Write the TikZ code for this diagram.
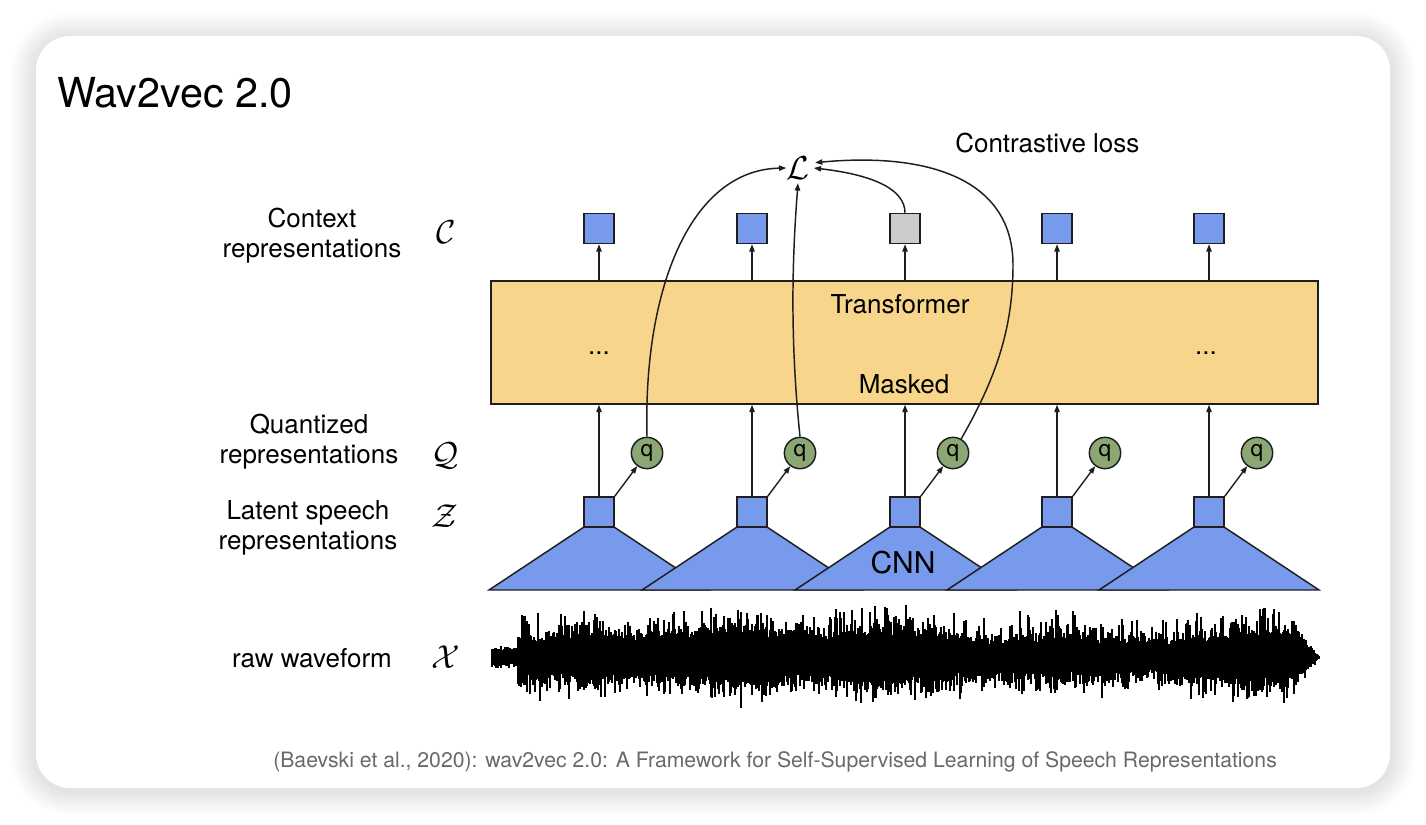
\documentclass[tikz,border=0pt]{standalone}
\usepackage{fontspec}
\setmainfont{TeX Gyre Heros}
\usetikzlibrary{arrows.meta}
\definecolor{blu}{RGB}{120,154,236}
\definecolor{grn}{RGB}{139,168,116}
\definecolor{tfc}{RGB}{247,213,138}
\definecolor{gry}{RGB}{204,204,204}
\definecolor{lineC}{RGB}{30,30,30}
\definecolor{citeC}{RGB}{105,105,105}
\begin{document}
\begin{tikzpicture}[x=0.75pt,y=-0.75pt,
  sqbox/.style={draw=lineC, line width=1.1pt, fill=blu, minimum size=22.5pt, inner sep=0pt},
  qcirc/.style={circle, draw=lineC, line width=1.1pt, fill=grn, minimum size=23.5pt, inner sep=0pt, font=\fontsize{17}{17}\selectfont},
  arr/.style={-{Triangle[length=5.5pt,width=4pt]}, line width=1.05pt, draw=lineC},
  curv/.style={-{Triangle[length=5.5pt,width=4pt]}, line width=1.1pt, draw=lineC},
  lbl/.style={font=\fontsize{19.5}{22.5}\selectfont, align=center, inner sep=0pt},
  mth/.style={font=\fontsize{24}{24}\selectfont, inner sep=0pt},
  inbox/.style={font=\fontsize{19.5}{22.5}\selectfont, inner sep=0pt, anchor=base}
]
\fill[white] (0,0) rectangle (1426,824);
\useasboundingbox (0,0) rectangle (1426,824);
% shadow
\foreach \k in {1,...,14}{
  \pgfmathsetmacro\myrad{(34+1.8*\k)*0.75}
  \fill[black,opacity=0.0075,rounded corners=\myrad pt] ({36-1.8*\k},{36-1.8*\k+2}) rectangle ({1390+1.8*\k},{788+1.8*\k+2});
}
\fill[white, rounded corners=25.5pt] (36,36) rectangle (1390,788);

% title
\node[font=\fontsize{31}{31}\selectfont, anchor=base west, inner sep=0pt] (title) at (57,107) {Wav2vec 2.0};

% transformer
\node[draw=lineC, line width=1.1pt, fill=tfc, minimum width=620.25pt, minimum height=92.25pt, inner sep=0pt] (tf) at (904.5,342.5) {};
\node[inbox] (tft) at (900,313) {Transformer};
\node[inbox] (tfm) at (904,393) {Masked};
\node[inbox] (dl) at (599,354) {...};
\node[inbox] (dr) at (1206,354) {...};

% CNN trapezoids
\foreach \c in {599,752,905,1057,1209}{
  \filldraw[fill=blu, draw=lineC, line width=1.1pt, line join=miter] ({\c-15},527) -- ({\c+15},527) -- ({\c+110},590) -- ({\c-110},590) -- cycle;
}
\node[font=\fontsize{22.5}{22.5}\selectfont, inner sep=0pt, anchor=base] (cnn) at (903,573) {CNN};

% columns
\foreach \c [count=\k] in {599,752,905,1057,1209}{
  \node[sqbox] (z\k) at (\c,512) {};
  \node[qcirc] (q\k) at ({\c+48},453) {q};
  \ifnum\k=3
    \node[sqbox, fill=gry] (c\k) at (\c,228.5) {};
  \else
    \node[sqbox] (c\k) at (\c,228.5) {};
  \fi
  \draw[arr] (z\k.north) -- (z\k.north |- tf.south);
  \draw[arr] (z\k.north east) -- (q\k);
  \draw[arr] (c\k.south |- tf.north) -- (c\k.south);
}

% loss
\node[font=\fontsize{28}{28}\selectfont, inner sep=0pt, minimum width=16.5pt, minimum height=22.5pt] (L) at (798,168) {$\mathcal{L}$};
\node[font=\fontsize{19.5}{22.5}\selectfont, inner sep=0pt, anchor=base west] (closs) at (955,152) {Contrastive loss};

\draw[curv] (q1.north) .. controls (643,290) and (690,170) .. (L.west);
\draw[curv] (q2.north) .. controls (790,340) and (792,260) .. (L.south);
\draw[curv] (c3.north) .. controls (905,190) and (875,175) .. ([xshift=3pt]L.east);
\draw[curv] (q3.60) .. controls (995,380) and (1013,330) .. (1013,265) .. controls (1013,180) and (930,152) .. ([xshift=4pt,yshift=4pt]L.east);

% waveform
\pgfmathsetseed{12}
\gdef\gA{0.5}\gdef\gB{0.5}
\foreach \i in {492,...,1319}{
  \pgfmathsetmacro\wenv{(\i<518)?13:((\i<577)?29:((\i<1297)?(33+5*sin(\i*2.1)+4*sin((\i-490)*0.45)+3*sin(\i*0.9+30)):(1.5*(1319-\i)+2)))}
  \pgfmathsetmacro\wspk{((\i>=518)&&(\i<1297))?1:0}
  \pgfmathsetmacro\tA{0.55*\gA+0.45*rnd}
  \pgfmathsetmacro\tB{0.55*\gB+0.45*rnd}
  \global\let\gA\tA
  \global\let\gB\tB
  \pgfmathsetmacro\rndA{rnd}
  \pgfmathsetmacro\rndB{rnd}
  \pgfmathsetmacro\rndC{rnd}
  \pgfmathsetmacro\rndD{rnd}
  \pgfmathsetmacro\wtop{\wenv*(0.35+0.4*\tA+0.3*\rndA^2)+\wspk*22*\rndC^4}
  \pgfmathsetmacro\wbot{\wenv*(0.35+0.4*\tB+0.3*\rndB^2)+\wspk*20*\rndD^4}
  \draw[line width=1pt, black] (\i,{657-\wtop}) -- (\i,{657+\wbot});
}

% left labels
\node[lbl] (lc) at (312,236) {Context\\representations};
\node[lbl] (lq) at (309,442) {Quantized\\representations};
\node[lbl] (lz) at (308,528) {Latent speech\\representations};
\node[font=\fontsize{19.5}{22.5}\selectfont, inner sep=0pt, anchor=base] (lx) at (312,667) {raw waveform};
\node[mth] (mc) at (446,232) {$\mathcal{C}$};
\node[mth] (mq) at (445,456) {$\mathcal{Q}$};
\node[mth] (mz) at (445,516) {$\mathcal{Z}$};
\node[mth] (mx) at (446,657) {$\mathcal{X}$};

% citation
\node[font=\fontsize{15.9}{17}\selectfont, text=citeC, inner sep=0pt, anchor=base west] (cite) at (273,767) {(Baevski et al., 2020): wav2vec 2.0: A Framework for Self-Supervised Learning of Speech Representations};
\end{tikzpicture}
\end{document}
